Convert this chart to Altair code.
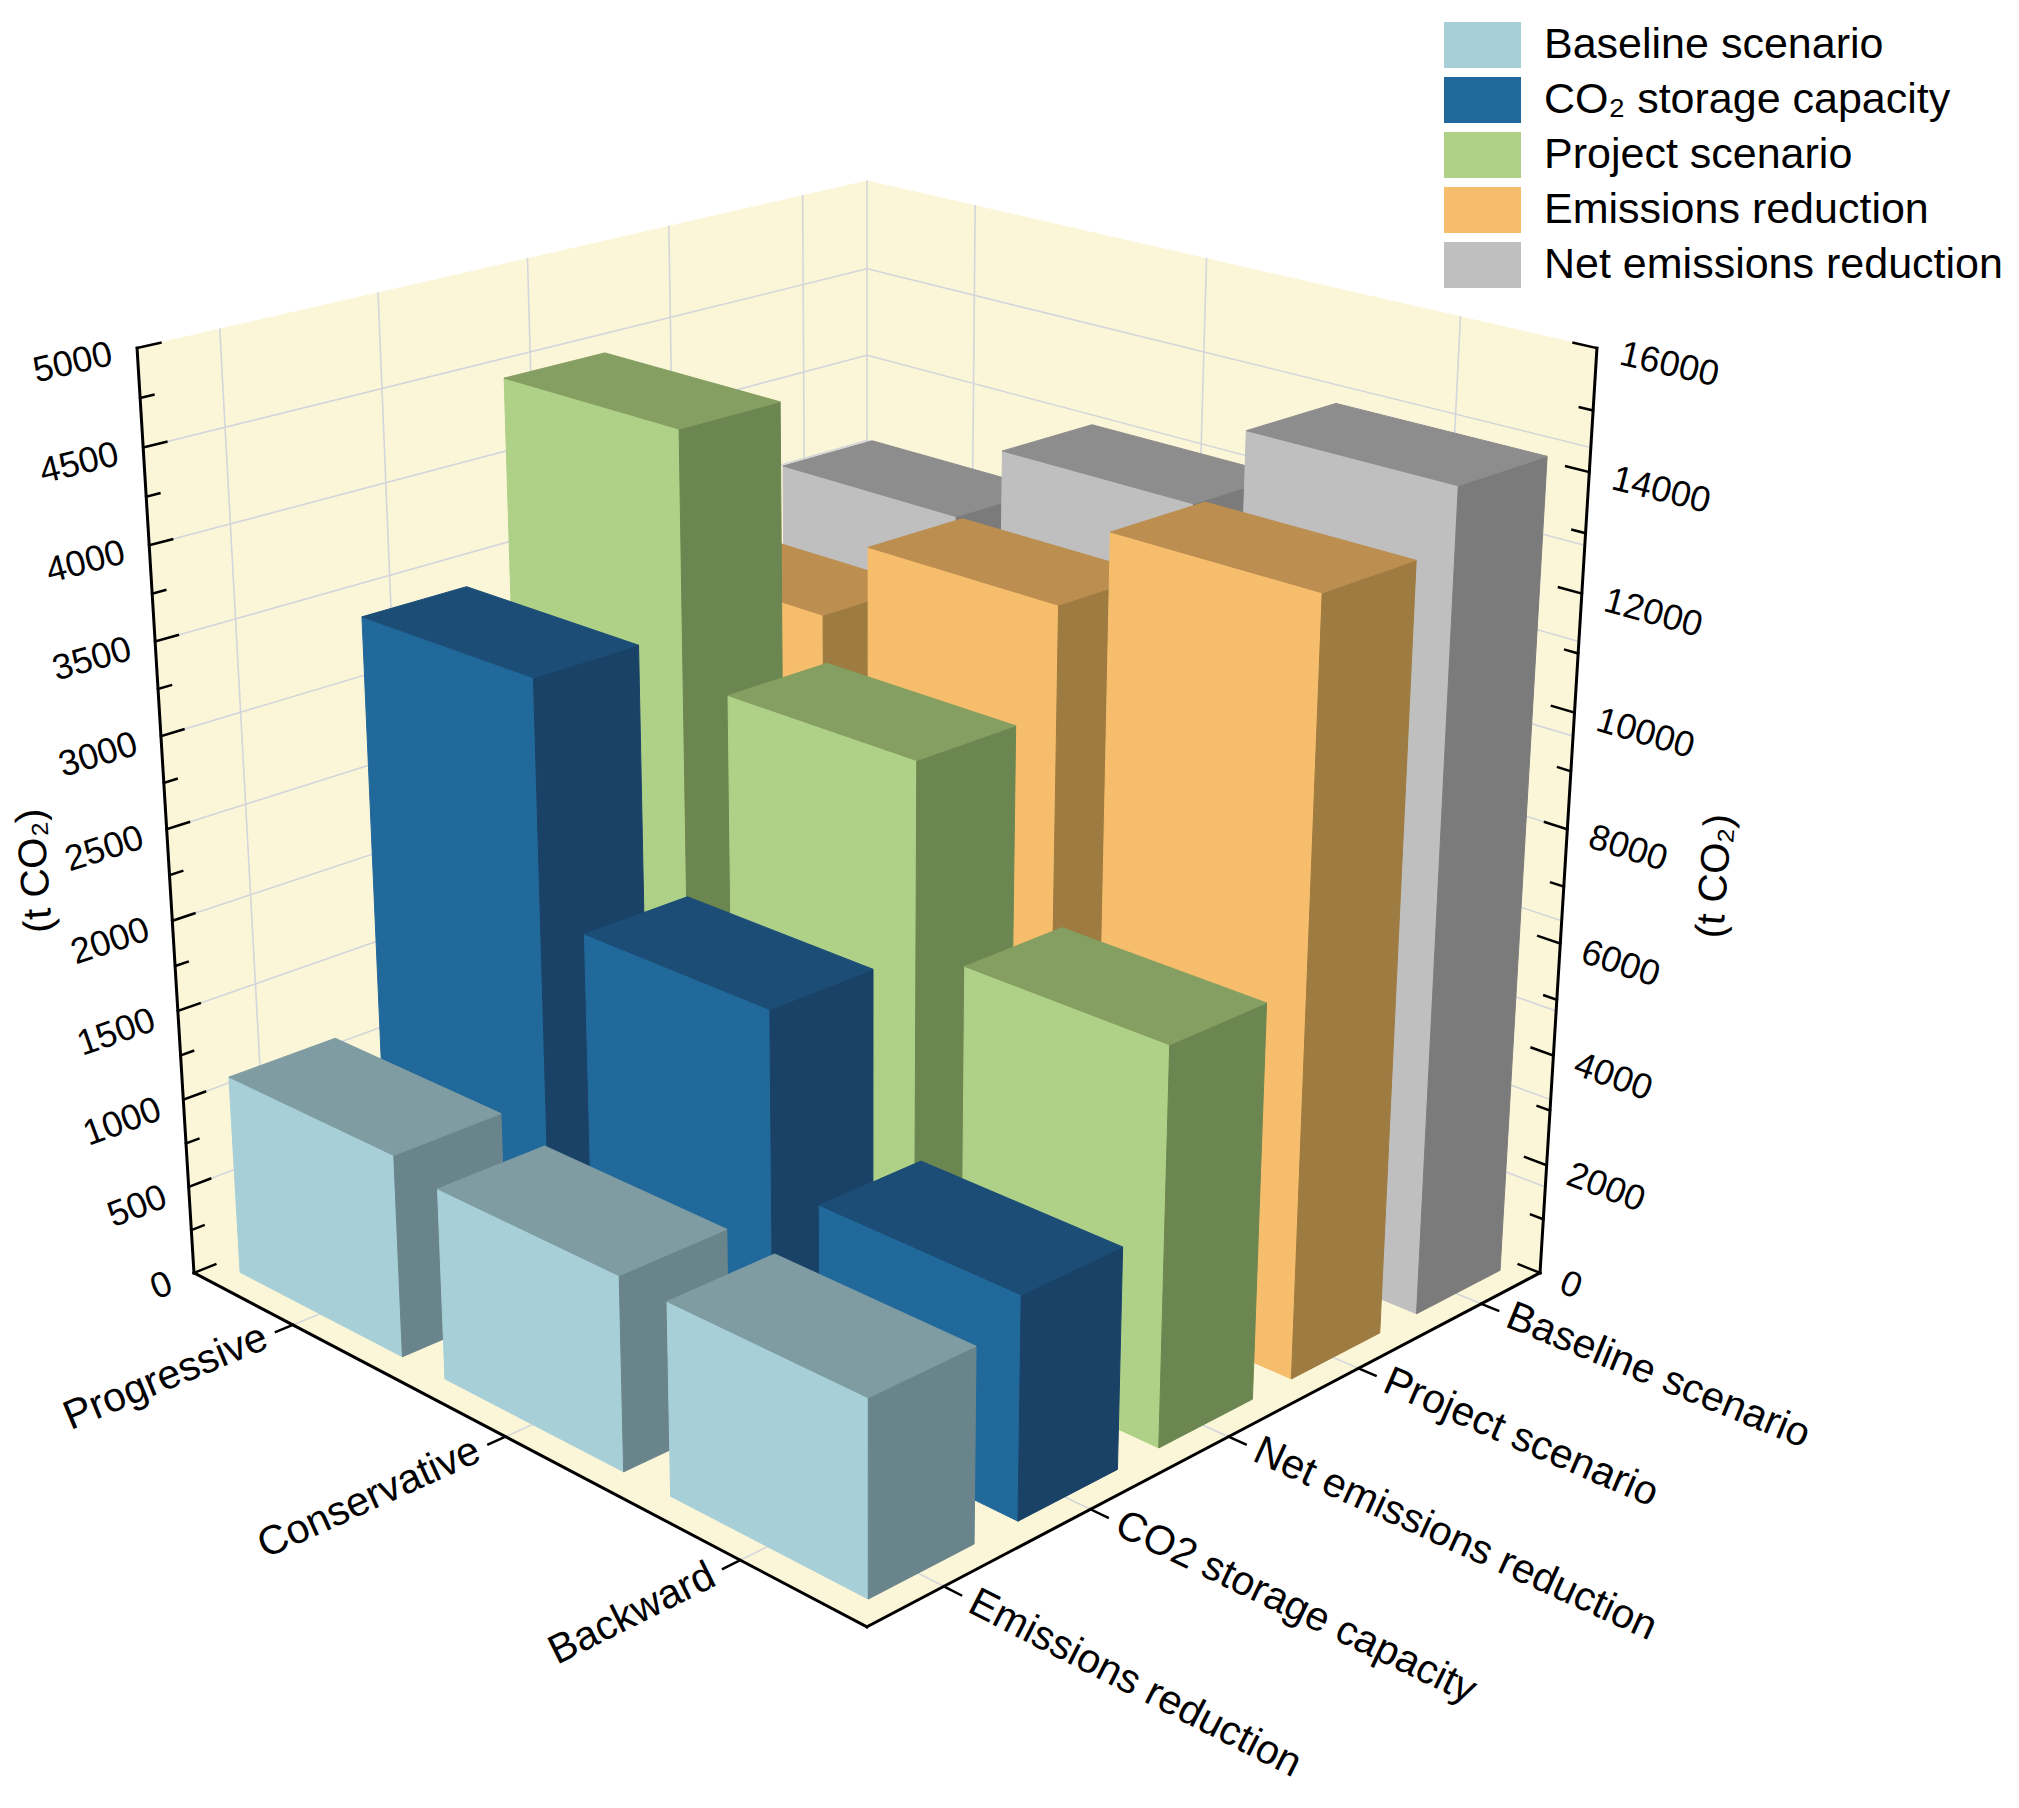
import math
import pandas as pd
import altair as alt

# ---------------- data ----------------
categories = ["Progressive", "Conservative", "Backward"]
series_names = ["Baseline scenario", "CO\u2082 storage capacity", "Project scenario",
                "Emissions reduction", "Net emissions reduction"]
baseline_scenario = [1125, 1055, 1040]            # t CO2 (left axis)
co2_storage_capacity = [3390, 2120, 1195]         # t CO2 (left axis)
project_scenario = [4455, 3130, 2145]             # t CO2 (left axis)
emissions_reduction = [10370, 11800, 13250]       # t CO2 (right axis)
net_emissions_reduction = [11390, 12780, 14230]   # t CO2 (right axis)
series_axis = ["left", "left", "left", "right", "right"]
scenario_axis_labels = ["Emissions reduction", "CO2 storage capacity",
                        "Net emissions reduction", "Project scenario", "Baseline scenario"]
left_ticks = [0, 500, 1000, 1500, 2000, 2500, 3000, 3500, 4000, 4500, 5000]
right_ticks = [0, 2000, 4000, 6000, 8000, 10000, 12000, 14000, 16000]
left_max = 5000
right_max = 16000
axis_title = "(t CO\u2082)"

front_colors = ["#A7CFD8", "#22699B", "#AED087", "#F6BD6C", "#BFBFBF"]
top_colors = ["#7F9CA3", "#1B4D77", "#849F61", "#BC8E50", "#8D8D8D"]
side_colors = ["#6A848C", "#1A4267", "#6B8650", "#9E7B40", "#7B7B7B"]

# ---------------- view / projection settings ----------------
W, H = 2003, 1792
FONT = "Liberation Sans"
WALL = "#FCF6D8"
GRID = "#D3D6DA"
ELEV = math.radians(21.74)
SN, CS = math.sin(ELEV), math.cos(ELEV)
DIST = 4.582          # camera distance (floor side = 1)
FLOOR = -0.456        # floor height relative to view target (box height = 1)
FOCAL = 4522.0
CX, CY = 859.0, 861.7
R2 = math.sqrt(0.5)
BAR_A = 0.4 / 3       # half bar depth along category axis
B_LO, B_HI = 0.035, 0.175


def proj(a, b, zn):
    w = (a + b - 1.0) * R2
    lat = (b - a) * R2
    z = FLOOR + zn
    up = w * SN + z * CS
    dep = DIST + w * CS - z * SN
    return lat / dep, up / dep


def ang(p, d):
    x1, y1 = proj(*p)
    x2, y2 = proj(p[0] + d[0], p[1] + d[1], p[2] + d[2])
    return math.degrees(math.atan2(-(y2 - y1), x2 - x1)) % 360


xdom = [-CX / FOCAL, (W - CX) / FOCAL]
ydom = [(CY - H) / FOCAL, CY / FOCAL]
X = alt.X("x:Q", scale=alt.Scale(domain=xdom, nice=False, zero=False), axis=None)
Y = alt.Y("y:Q", scale=alt.Scale(domain=ydom, nice=False, zero=False), axis=None)


def poly_df(polys):
    rows = []
    for pid, (pts, key) in enumerate(polys):
        for k, pt in enumerate(pts + [pts[0]]):
            x, y = proj(*pt)
            rows.append({"pid": pid, "vi": k, "x": x, "y": y, "key": key})
    return pd.DataFrame(rows)


def seg_df(segs):
    rows = []
    for sid, (p, q) in enumerate(segs):
        for k, pt in enumerate((p, q)):
            x, y = proj(*pt)
            rows.append({"sid": sid, "vi": k, "x": x, "y": y})
    return pd.DataFrame(rows)


def lines_layer(segs, color, width):
    return alt.Chart(seg_df(segs)).mark_line(color=color, strokeWidth=width, strokeCap="square").encode(
        x=X, y=Y, detail="sid:N", order="vi:Q")


def text_layer(rows, align, size):
    return alt.Chart(pd.DataFrame(rows)).mark_text(
        align=align, baseline="middle", fontSize=size, font=FONT, color="black").encode(
        x=X, y=Y, text="t:N", angle=alt.Angle("ang:Q", scale=None))


cat_pos = [1 - (i + 0.5) / 3 for i in range(len(categories))]
scen_pos = [(j + 0.5) / 5 for j in range(len(scenario_axis_labels))]

# ---------------- walls & floor ----------------
bg = alt.Chart(poly_df([
    ([(0, 0, 0), (1, 0, 0), (1, 1, 0), (0, 1, 0)], "floor"),
    ([(1, 0, 0), (1, 1, 0), (1, 1, 1), (1, 0, 1)], "left wall"),
    ([(0, 1, 0), (1, 1, 0), (1, 1, 1), (0, 1, 1)], "right wall"),
])).mark_line(strokeWidth=1).encode(
    x=X, y=Y, detail="pid:N", order="vi:Q", fill=alt.value(WALL), stroke=alt.value(WALL))

grid_segs = []
for b in scen_pos:
    grid_segs.append(((1, b, 0), (1, b, 1)))
    grid_segs.append(((0, b, 0), (1, b, 0)))
for a in cat_pos:
    grid_segs.append(((a, 1, 0), (a, 1, 1)))
    grid_segs.append(((a, 0, 0), (a, 1, 0)))
for v in left_ticks[1:-1]:
    zn = v / left_max
    grid_segs.append(((1, 0, zn), (1, 1, zn)))
    grid_segs.append(((0, 1, zn), (1, 1, zn)))
grid_segs.append(((1, 1, 0), (1, 1, 1)))
grid = lines_layer(grid_segs, GRID, 1.6)

# ---------------- bars ----------------
keys, colors = [], []
for j, name in enumerate(series_names):
    keys += [name, name + " (top)", name + " (side)"]
    colors += [front_colors[j], top_colors[j], side_colors[j]]
fill_scale = alt.Scale(domain=keys, range=colors)
legend = alt.Legend(
    values=series_names, title=None, orient="none", legendX=1451.5, legendY=14,
    symbolType="M-1.674,-1H1.674V1H-1.674Z", symbolSize=2116, symbolStrokeWidth=0,
    symbolOpacity=1, labelFont=FONT, labelFontSize=43, labelColor="black",
    labelOffset=38.5, labelLimit=700, rowPadding=9, padding=0)

values_by_series = [baseline_scenario, co2_storage_capacity, project_scenario,
                    emissions_reduction, net_emissions_reduction]
bar_list = []
for j, (name, vals, ax) in enumerate(zip(series_names, values_by_series, series_axis)):
    full = left_max if ax == "left" else right_max
    for i, v in enumerate(vals):
        ac = cat_pos[i]
        a0, a1 = ac - BAR_A, ac + BAR_A
        b0, b1 = 0.2 * j + B_LO, 0.2 * j + B_HI
        zn = v / full
        polys = [
            ([(a0, b0, 0), (a1, b0, 0), (a1, b0, zn), (a0, b0, zn)], name),
            ([(a0, b0, 0), (a0, b1, 0), (a0, b1, zn), (a0, b0, zn)], name + " (side)"),
            ([(a0, b0, zn), (a1, b0, zn), (a1, b1, zn), (a0, b1, zn)], name + " (top)"),
        ]
        bar_list.append((ac + (b0 + b1) / 2, polys))
bar_list.sort(key=lambda t: -t[0])   # painter's order: far to near

bar_layers = []
for _, polys in bar_list:
    bar_layers.append(alt.Chart(poly_df(polys)).mark_line(strokeWidth=1, strokeJoin="round").encode(
        x=X, y=Y, detail="pid:N", order="vi:Q",
        fill=alt.Fill("key:N", scale=fill_scale, legend=legend),
        stroke=alt.Stroke("key:N", scale=fill_scale, legend=None)))

# ---------------- axes ----------------
axis_lines = lines_layer([
    ((1, 0, 0), (1, 0, 1)), ((0, 1, 0), (0, 1, 1)),
    ((0, 0, 0), (1, 0, 0)), ((0, 0, 0), (0, 1, 0))], "black", 3)

tick_segs = []
for v in left_ticks:
    zn = v / left_max
    tick_segs.append(((1, 0, zn), (1, 0.028, zn)))
    if v < left_max:
        zm = (v + 250) / left_max
        tick_segs.append(((1, 0, zm), (1, 0.016, zm)))
for v in right_ticks:
    zn = v / right_max
    tick_segs.append(((0, 1, zn), (0.028, 1, zn)))
    if v < right_max:
        zm = (v + 1000) / right_max
        tick_segs.append(((0, 1, zm), (0.016, 1, zm)))
for a in cat_pos:
    tick_segs.append(((a, 0, 0), (a, -0.022, 0)))
for b in scen_pos:
    tick_segs.append(((0, b, 0), (-0.022, b, 0)))
ticks = lines_layer(tick_segs, "black", 2.5)

left_lab = []
for v in left_ticks:
    p = (1, -0.03, v / left_max)
    x, y = proj(*p)
    left_lab.append({"x": x, "y": y, "t": str(v), "ang": ang(p, (0, 0.05, 0))})
right_lab = []
for v in right_ticks:
    p = (-0.028, 1, v / right_max)
    x, y = proj(*p)
    right_lab.append({"x": x, "y": y, "t": str(v), "ang": ang(p, (-0.05, 0, 0))})
cat_lab = []
for a, name in zip(cat_pos, categories):
    p = (a, -0.035, 0)
    x, y = proj(*p)
    cat_lab.append({"x": x, "y": y, "t": name, "ang": ang(p, (0, 0.05, 0))})
scen_lab = []
for b, name in zip(scen_pos, scenario_axis_labels):
    p = (-0.035, b, 0)
    x, y = proj(*p)
    scen_lab.append({"x": x, "y": y, "t": name, "ang": ang(p, (-0.05, 0, 0))})
titles = []
for p in [(1, -0.16, 0.5), (-0.18, 1, 0.5)]:
    x, y = proj(*p)
    titles.append({"x": x, "y": y, "t": axis_title, "ang": ang(p, (0, 0, 0.05))})

layers = [bg, grid] + bar_layers + [
    axis_lines, ticks,
    text_layer(left_lab, "right", 36),
    text_layer(right_lab, "left", 36),
    text_layer(cat_lab, "right", 41),
    text_layer(scen_lab, "left", 41),
    text_layer(titles, "center", 40),
]

chart = alt.layer(*layers).properties(
    width=W, height=H, autosize=alt.AutoSizeParams(type="none"), padding=0
).configure_view(strokeWidth=0)

chart.save("out.html", embed_options={"renderer": "svg", "actions": False})
